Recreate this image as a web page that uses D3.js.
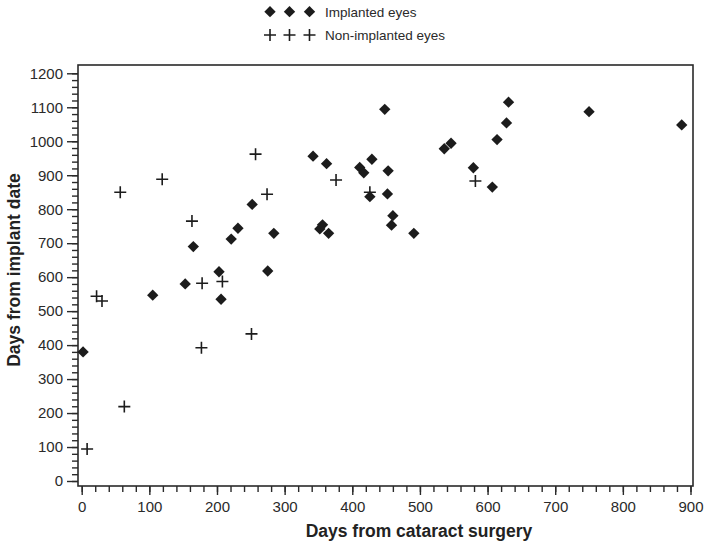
<!DOCTYPE html>
<html>
<head>
<meta charset="utf-8">
<script src="https://cdn.jsdelivr.net/npm/d3@7"></script>
<style>
  html, body { margin: 0; padding: 0; background: #fff; }
  svg { display: block; }
  .tick text { font-family: "Liberation Sans Narrow", "Arial Narrow", "Liberation Sans", Arial, sans-serif; font-size: 15px; fill: #2a2a2a; }
</style>
</head>
<body>
<svg id="chart" width="707" height="545"></svg>
<script>
// ---- Data ----
const implantedX = [2, 105, 153, 165, 203, 206, 221, 231, 252, 275, 284, 342, 362, 352, 356, 365,
  411, 417, 429, 426, 448, 452, 453, 458, 460, 491, 536, 546, 579, 607, 614, 628, 631, 750, 887];
const implantedY = [380, 547, 580, 690, 616, 535, 712, 744, 814, 618, 729, 956, 934, 742, 754, 729,
  923, 907, 947, 837, 1094, 845, 913, 753, 781, 729, 978, 994, 922, 865, 1005, 1054, 1115, 1087, 1048];

const nonImplantedX = [8, 22, 30, 57, 63, 119, 163, 177, 178, 208, 251, 257, 274, 376, 426, 582];
const nonImplantedY = [94, 544, 530, 850, 219, 888, 765, 392, 582, 587, 433, 962, 844, 886, 850, 883];

const xTicks = [0, 100, 200, 300, 400, 500, 600, 700, 800, 900];
const yTicks = [0, 100, 200, 300, 400, 500, 600, 700, 800, 900, 1000, 1100, 1200];
const legendLabels = ["Implanted eyes", "Non-implanted eyes"];
const xTitle = "Days from cataract surgery";
const yTitle = "Days from implant date";

// ---- Chart ----
const svg = d3.select("#chart");
const frame = { left: 78, right: 693, top: 65, bottom: 486 };
const x = d3.scaleLinear().domain([0, 900]).range([81.7, 690.5]);
const y = d3.scaleLinear().domain([0, 1200]).range([481, 73.3]);
const ink = "#1c1c1c";
const fmt = d3.format("d");

// frame
svg.append("rect")
  .attr("x", frame.left).attr("y", frame.top)
  .attr("width", frame.right - frame.left).attr("height", frame.bottom - frame.top)
  .attr("fill", "none").attr("stroke", "#2a2a2a").attr("stroke-width", 1.6);

// y axis minor
const yMinor = svg.append("g").attr("transform", `translate(${frame.left},0)`)
  .call(d3.axisLeft(y).tickValues(d3.range(0, 1201, 20)).tickSize(6).tickFormat(""));
yMinor.select(".domain").remove();
yMinor.selectAll("line").attr("stroke", "#2a2a2a").attr("stroke-width", 1.4);

const yAxis = svg.append("g").attr("transform", `translate(${frame.left},0)`)
  .call(d3.axisLeft(y).tickValues(yTicks).tickSize(11).tickPadding(4).tickFormat(fmt));
yAxis.select(".domain").remove();
yAxis.selectAll("line").attr("stroke", "#2a2a2a").attr("stroke-width", 1.4);

// x axis
const xMinor = svg.append("g").attr("transform", `translate(0,${frame.bottom})`)
  .call(d3.axisBottom(x).tickValues(d3.range(0, 901, 20)).tickSize(6).tickFormat(""));
xMinor.select(".domain").remove();
xMinor.selectAll("line").attr("stroke", "#2a2a2a").attr("stroke-width", 1.4);

const xAxis = svg.append("g").attr("transform", `translate(0,${frame.bottom})`)
  .call(d3.axisBottom(x).tickValues(xTicks).tickSize(9).tickPadding(6).tickFormat(fmt));
xAxis.select(".domain").remove();
xAxis.selectAll("line").attr("stroke", "#2a2a2a").attr("stroke-width", 1.4);

// axis titles
svg.append("text")
  .attr("x", 419).attr("y", 537)
  .attr("text-anchor", "middle")
  .attr("font-family", "Liberation Sans, Arial, sans-serif")
  .attr("font-weight", "bold").attr("font-size", 17.5).attr("fill", "#222")
  .text(xTitle);
svg.append("text")
  .attr("transform", "translate(20,270) rotate(-90)")
  .attr("text-anchor", "middle")
  .attr("font-family", "Liberation Sans, Arial, sans-serif")
  .attr("font-weight", "bold").attr("font-size", 17.5).attr("fill", "#222")
  .text(yTitle);

// markers
const diamond = d3.symbol().type(d3.symbolDiamond2).size(82);
const plusPath = (s) => `M${-s},0H${s}M0,${-s}V${s}`;

const implanted = implantedX.map((v, i) => ({ x: v, y: implantedY[i] }));
const nonImplanted = nonImplantedX.map((v, i) => ({ x: v, y: nonImplantedY[i] }));

svg.append("g").selectAll("path").data(nonImplanted).join("path")
  .attr("transform", d => `translate(${x(d.x)},${y(d.y)})`)
  .attr("d", plusPath(6))
  .attr("stroke", ink).attr("stroke-width", 1.6).attr("fill", "none");

svg.append("g").selectAll("path").data(implanted).join("path")
  .attr("transform", d => `translate(${x(d.x)},${y(d.y)})`)
  .attr("d", diamond())
  .attr("fill", ink);

// legend
const legendX = [270, 289.5, 309.5];
const lg = svg.append("g");
lg.selectAll(".ld").data(legendX).join("path").attr("class", "ld")
  .attr("transform", d => `translate(${d},11.7)`)
  .attr("d", diamond()).attr("fill", ink);
lg.selectAll(".lp").data(legendX).join("path").attr("class", "lp")
  .attr("transform", d => `translate(${d},35)`)
  .attr("d", plusPath(6)).attr("stroke", ink).attr("stroke-width", 1.6).attr("fill", "none");
lg.selectAll("text").data(legendLabels).join("text")
  .attr("x", 325).attr("y", (d, i) => 16.5 + i * 23.5)
  .attr("font-family", "Liberation Sans, Arial, sans-serif")
  .attr("font-size", 13.5).attr("fill", "#2a2a2a")
  .text(d => d);
</script>
</body>
</html>
